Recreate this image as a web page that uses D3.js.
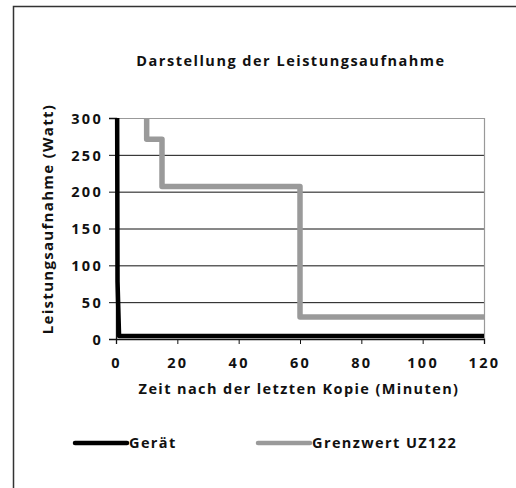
<!DOCTYPE html>
<html>
<head>
<meta charset="utf-8">
<script src="https://cdn.jsdelivr.net/npm/d3@7"></script>
<style>
  body { margin: 0; background: #fff; }
  svg text { font-family: "Open Sans", sans-serif; font-weight: 700; fill: #111; }
</style>
</head>
<body>
<svg width="516" height="488"></svg>
<script>
// values
const title = 'Darstellung der Leistungsaufnahme'
const xLabel = 'Zeit nach der letzten Kopie (Minuten)'
const yLabel = 'Leistungsaufnahme (Watt)'
const xTicks = [0, 20, 40, 60, 80, 100, 120]
const yTicks = [0, 50, 100, 150, 200, 250, 300]

const geraetTime = [0, 0.5, 1, 120]
const geraetWatt = [1000, 78, 4, 4]
const grenzTime = [0, 10, 10, 15, 15, 60, 60, 120]
const grenzWatt = [330, 330, 271, 271, 207, 207, 30, 30]

const series = [
  {name: 'Gerät', color: '#000', width: 4.5, t: geraetTime, w: geraetWatt},
  {name: 'Grenzwert UZ122', color: '#9a9a9a', width: 5.5, t: grenzTime, w: grenzWatt}
]

const svg = d3.select('svg')
const margin = {left: 116, top: 118, right: 32, bottom: 149}
const width = 516 - margin.left - margin.right
const height = 488 - margin.top - margin.bottom

// outer frame, runs off the right and bottom edge
svg.append('rect')
  .attr('x', 13.5).attr('y', 6.5)
  .attr('width', 540).attr('height', 520)
  .attr('fill', 'none')
  .attr('stroke', '#333')
  .attr('stroke-width', 1.5)

svg.append('text')
  .attr('x', 291).attr('y', 66)
  .attr('text-anchor', 'middle')
  .style('font-size', '14.5px')
  .style('letter-spacing', '1.5px')
  .text(title)

const x = d3.scaleLinear().domain([0, 120]).range([0, width])
const y = d3.scaleLinear().domain([0, 300]).range([height, 0])

const g = svg.append('g')
  .attr('transform', 'translate(' + margin.left + ',' + margin.top + ')')

g.append('clipPath').attr('id', 'clip')
  .append('rect').attr('x', -3).attr('y', 0).attr('width', width + 3).attr('height', height + 3)

// gridlines
g.append('g')
  .selectAll('line')
  .data(yTicks.slice(1, -1))
  .enter()
  .append('line')
  .attr('x1', 0).attr('x2', width)
  .attr('y1', d => y(d) + 0.5).attr('y2', d => y(d) + 0.5)
  .attr('stroke', '#111')
  .attr('stroke-width', 1)

// plot border top/right
g.append('path')
  .attr('d', 'M0,0.5H' + (width + 0.5) + 'V' + height)
  .attr('fill', 'none')
  .attr('stroke', '#999')
  .attr('stroke-width', 1.2)

const xAxis = g.append('g')
  .attr('transform', 'translate(0,' + height + ')')
  .call(d3.axisBottom(x).tickValues(xTicks).tickSize(5).tickPadding(14))
const yAxis = g.append('g')
  .call(d3.axisLeft(y).tickValues(yTicks).tickSize(7).tickPadding(6))

;[xAxis, yAxis].forEach(a => {
  a.select('.domain').attr('stroke', '#111').attr('stroke-width', 1.3)
  a.selectAll('.tick line').attr('stroke', '#111')
  a.selectAll('.tick text')
    .style('font-size', '14.5px')
    .style('letter-spacing', '2.3px')
    .attr('fill', '#111')
})
yAxis.selectAll('.tick text').attr('dy', '0.36em')

const line = d3.line()
  .x(d => x(d[0]))
  .y(d => y(d[1]))

g.append('g')
  .attr('clip-path', 'url(#clip)')
  .selectAll('path')
  .data(series.slice().reverse())
  .enter()
  .append('path')
  .attr('d', s => line(s.t.map((t, i) => [t, s.w[i]])))
  .attr('fill', 'none')
  .attr('stroke', s => s.color)
  .attr('stroke-width', s => s.width)
  .attr('stroke-linejoin', 'round')

svg.append('text')
  .attr('x', 299).attr('y', 394)
  .attr('text-anchor', 'middle')
  .style('font-size', '14.5px')
  .style('letter-spacing', '1.4px')
  .text(xLabel)

svg.append('text')
  .attr('transform', 'translate(53,219) rotate(-90)')
  .attr('text-anchor', 'middle')
  .style('font-size', '15px')
  .style('letter-spacing', '1.3px')
  .text(yLabel)

// legend
const legendX = [75, 258]
const leg = svg.selectAll('.legend')
  .data(series)
  .enter()
  .append('g')
  .attr('class', 'legend')
  .attr('transform', (d, i) => 'translate(' + legendX[i] + ',443)')
leg.append('line')
  .attr('x1', 0).attr('x2', 52)
  .attr('stroke', d => d.color)
  .attr('stroke-width', 4.5)
  .attr('stroke-linecap', 'round')
leg.append('text')
  .attr('x', 54).attr('dy', '0.36em')
  .style('font-size', '14.5px')
  .style('letter-spacing', '1.4px')
  .text(d => d.name)
</script>
</body>
</html>
